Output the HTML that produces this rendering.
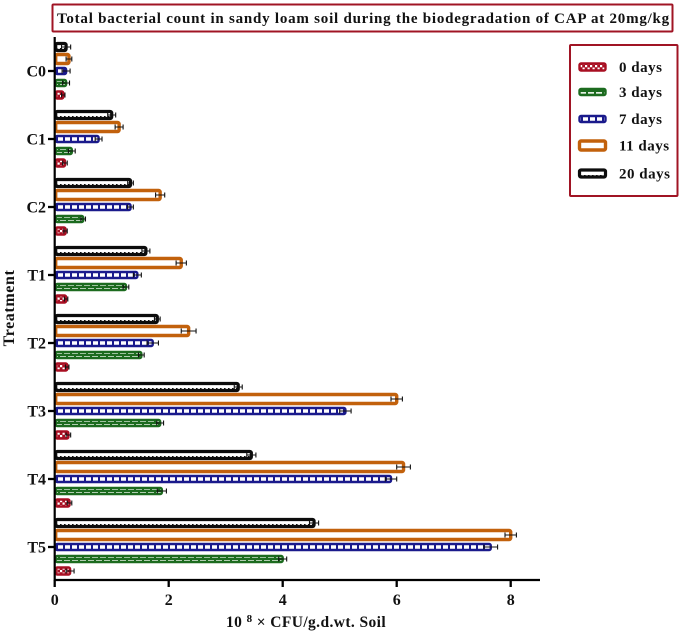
<!DOCTYPE html>
<html lang="en">
<head>
<meta charset="utf-8">
<title>Total bacterial count chart</title>
<style>
html,body{margin:0;padding:0;background:#fff}
svg{display:block}
text{font-family:"Liberation Serif",serif;font-weight:bold;fill:#111}
</style>
</head>
<body>
<svg id="chart" width="685" height="636" viewBox="0 0 685 636" xmlns="http://www.w3.org/2000/svg">
<defs>
<pattern id="p0" width="5" height="5" patternUnits="userSpaceOnUse">
<rect width="5" height="5" fill="#a80f22"/>
<rect x="0" y="0" width="2.2" height="2.2" fill="#fff"/>
<rect x="2.5" y="2.5" width="2.2" height="2.2" fill="#fff"/>
</pattern>
<pattern id="p3" width="8" height="8" patternUnits="userSpaceOnUse">
<rect width="8" height="8" fill="#1c6b1f"/>
<rect x="0" y="0" width="6" height="1.9" fill="#e4f0e4"/>
<rect x="4" y="4" width="6" height="1.9" fill="#e4f0e4"/>
<rect x="-4" y="4" width="6" height="1.9" fill="#e4f0e4"/>
</pattern>
<pattern id="p7" width="7" height="7" patternUnits="userSpaceOnUse">
<rect width="7" height="7" fill="#fff"/>
<rect x="0" width="2" height="7" fill="#1a1a8c"/>
</pattern>
<pattern id="p20" width="4" height="68" patternUnits="userSpaceOnUse">
<rect width="4" height="68" fill="#fff"/>
<rect x="0" y="48" width="1.6" height="1.6" fill="#111"/>
<rect x="0" y="39" width="1.6" height="1.6" fill="#111"/>
</pattern>
</defs>
<rect x="52.5" y="4.5" width="620" height="27" fill="#fff" stroke="#a01424" stroke-width="2" rx="1"/>
<text x="57" y="23" font-size="15" letter-spacing="0.77">Total bacterial count in sandy loam soil during the biodegradation of CAP at 20mg/kg</text>
<g id="plot"></g>
<g id="axes"></g>
<text transform="translate(14,308) rotate(-90)" text-anchor="middle" font-size="16" letter-spacing="0.6">Treatment</text>
<text x="226" y="627" font-size="15.5" letter-spacing="0.4">10 <tspan dy="-5" font-size="11">8</tspan><tspan dy="5"> × CFU/g.d.wt. Soil</tspan></text>
<rect x="570" y="45" width="107.5" height="151" fill="#fff" stroke="#a01424" stroke-width="2" rx="1"/>
<g id="legend"></g>
</svg>
<script>
const treatments = ["C0","C1","C2","T1","T2","T3","T4","T5"];
const seriesNames = ["20 days","11 days","7 days","3 days","0 days"];
const days20 = [0.20,1.00,1.33,1.60,1.80,3.22,3.45,4.55];
const days11 = [0.25,1.13,1.85,2.22,2.35,6.00,6.12,8.00];
const days7 = [0.20,0.77,1.33,1.45,1.72,5.10,5.90,7.65];
const days3 = [0.20,0.30,0.50,1.25,1.52,1.85,1.88,4.00];
const days0 = [0.15,0.18,0.19,0.20,0.22,0.24,0.26,0.27];
const err20 = [0.08,0.07,0.05,0.07,0.05,0.07,0.08,0.08];
const err11 = [0.05,0.07,0.08,0.09,0.13,0.10,0.12,0.10];
const err7 = [0.07,0.06,0.05,0.07,0.10,0.10,0.10,0.12];
const err3 = [0.06,0.06,0.04,0.05,0.05,0.06,0.08,0.07];
const err0 = [0.03,0.04,0.03,0.03,0.03,0.04,0.04,0.07];
const xTicks = [0,2,4,6,8];
const legendLabels = ["0 days","3 days","7 days","11 days","20 days"];

const NS = "http://www.w3.org/2000/svg";
const xScale = v => 54.7 + v * 57;
const groupY = i => 71 + i * 68;
const seriesOffset = s => (s - 2) * 12;

const seriesValues = [days20, days11, days7, days3, days0];
const seriesErrors = [err20, err11, err7, err3, err0];
const seriesStroke = ["#0c0c0c","#c2610c","#1a1a8c","#1c6b1f","#a80f22"];
const seriesFill = ["url(#p20)","#fff","url(#p7)","url(#p3)","url(#p0)"];
const seriesWidth = [3.2,3.4,2.4,2.4,2.4];
const seriesHeight = [7,9,6,6,7];

function make(tag, attrs, parent){
  const el = document.createElementNS(NS, tag);
  for (const k in attrs) el.setAttribute(k, attrs[k]);
  parent.appendChild(el);
  return el;
}

const plot = document.getElementById("plot");
seriesValues.forEach((vals, s) => {
  vals.forEach((v, i) => {
    const cy = groupY(i) + seriesOffset(s);
    const h = seriesHeight[s];
    const bar = make("rect", {x: xScale(0) + 1, y: cy - h / 2, width: Math.max(xScale(v) - xScale(0) - 1, 1), height: h, rx: 1.5, fill: seriesFill[s], stroke: seriesStroke[s], "stroke-width": seriesWidth[s]}, plot);
    
    
    const e = seriesErrors[s][i];
    const x1 = xScale(v - e), x2 = xScale(v + e);
    const err = make("path", {d: `M${x1} ${cy}H${x2}M${x1} ${cy - 2.5}V${cy + 2.5}M${x2} ${cy - 2.5}V${cy + 2.5}`, stroke: "#111", "stroke-width": 1.1, fill: "none"}, plot);
    
    
  });
});

const axes = document.getElementById("axes");
const yLine = make("line", {x1: 54.7, x2: 54.7, y1: 37, y2: 581, stroke: "#000", "stroke-width": 2.2}, axes);


const xLine = make("line", {x1: 54, x2: 540, y1: 580, y2: 580, stroke: "#000", "stroke-width": 2.2}, axes);



treatments.forEach((t, i) => {
  const y = groupY(i);
  const tick = make("line", {x1: 48, x2: 54, y1: y, y2: y, stroke: "#000", "stroke-width": 2.3}, axes);
  
  
  const label = make("text", {x: 46, y: y + 5.5, "text-anchor": "end", "font-size": 16}, axes);
  
  
  label.textContent = t;
});

xTicks.forEach(v => {
  const x = xScale(v);
  const tick = make("line", {x1: x, x2: x, y1: 580, y2: 587, stroke: "#000", "stroke-width": 2.3}, axes);
  
  
  const label = make("text", {x: x, y: 605, "text-anchor": "middle", "font-size": 16}, axes);
  
  
  label.textContent = v;
});

const legend = document.getElementById("legend");
const legendY = [67, 92, 119, 145.5, 173.5];
legendLabels.forEach((name, k) => {
  const s = seriesNames.indexOf(name);
  const y = legendY[k];
  const h = seriesHeight[s];
  const sw = make("rect", {x: 579.5, y: y - h / 2, width: 26, height: h, rx: 1.5, fill: seriesFill[s], stroke: seriesStroke[s], "stroke-width": seriesWidth[s]}, legend);
  
  
  const label = make("text", {x: 619, y: y + 5, "font-size": 15, "letter-spacing": 0.5}, legend);
  
  
  label.textContent = name;
});
</script>
</body>
</html>
